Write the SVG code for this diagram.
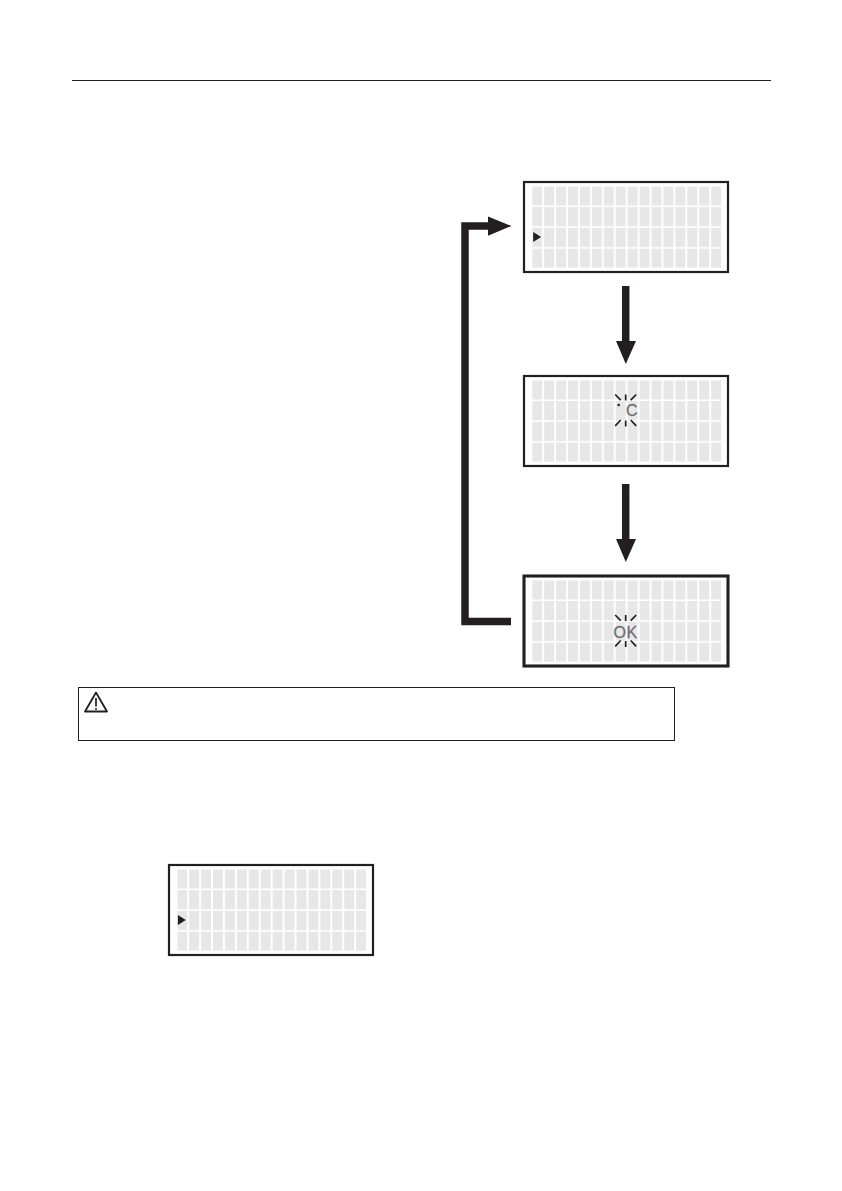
<svg xmlns="http://www.w3.org/2000/svg" width="842" height="1191" viewBox="0 0 842 1191">
<style>
.frame{fill:#fff;stroke:#231f20;stroke-width:2.2}
.cells{fill:url(#cell)}
.cur{fill:#231f20}
.ray{stroke:#231f20;stroke-width:1.700;fill:none}
.lcd{font-family:"Liberation Sans",Arial,sans-serif;font-size:16px;fill:#6e6e6e;stroke:#6e6e6e;stroke-width:0.300}
.conn{fill:none;stroke:#231f20;stroke-width:7.5}
.head{fill:#231f20}
</style>
<defs>
<pattern id="cell" patternUnits="userSpaceOnUse" x="0" y="0" width="11.93" height="20.8">
<rect width="10" height="19.200" fill="#e7e7e7"/>
</pattern>
<g id="lcd">
<rect class="frame" x="0" y="0" width="204" height="90"/>
<rect class="cells" x="0" y="0" width="189" height="81.600" transform="translate(8.200 4.300)"/>
</g>
<path id="rays" class="ray" d="M0-14.500V-8.500M-10.500-14.500-5-8.800M10.500-14.500 5-8.800M0 11.500V17.500M-5 11-10.500 16.800M5 11 10.500 16.800"/>
<path id="cursor" class="cur" d="M-0.300-0.300 7.600 4.700-0.300 9.700Z"/>
</defs>
<line id="header-rule" x1="72" y1="80.500" x2="771" y2="80.500" stroke="#231f20" stroke-width="1"/>
<g id="connectors">
<path class="conn" d="M511 621.500H465V226H490"/>
<path class="head" d="M488 216.500 511.500 226 488 235.700Z"/>
<path class="conn" d="M625.700 286V344"/>
<path class="head" d="M616 341 636 341 625.800 364Z"/>
<path class="conn" d="M625.700 484V542"/>
<path class="head" d="M616 539 636 539 625.800 562Z"/>
</g>
<g id="display-1" transform="translate(524 182)">
<use href="#lcd"/>
<use href="#cursor" transform="translate(9.500 50.300)"/>
</g>
<g id="display-2" transform="translate(524 376)">
<use href="#lcd"/>
<use href="#rays" transform="translate(101.700 33)"/>
<circle class="cur" cx="94.700" cy="29" r="1.300"/>
<text class="lcd" x="102" y="40.300">C</text>
</g>
<g id="display-3" transform="translate(524 576)">
<use href="#lcd"/>
<rect x="0" y="0" width="204" height="90" fill="none" stroke="#231f20" stroke-width="3"/>
<use href="#rays" transform="translate(101.700 53.500)"/>
<text class="lcd" x="89.500" y="61.500" letter-spacing="0.500">OK</text>
</g>
<g id="warning">
<rect x="78.500" y="687.500" width="596" height="53" fill="#fff" stroke="#231f20" stroke-width="1"/>
<path d="M96 692.500 107 711.500H85Z" fill="none" stroke="#231f20" stroke-width="1.800" stroke-linejoin="round"/>
<path d="M96 698V706.500" stroke="#231f20" stroke-width="1.700" fill="none"/>
<circle cx="96" cy="709" r="1" fill="#231f20"/>
</g>
<g id="display-4" transform="translate(169 865)">
<use href="#lcd"/>
<use href="#cursor" transform="translate(9.200 50.300)"/>
</g>
</svg>
